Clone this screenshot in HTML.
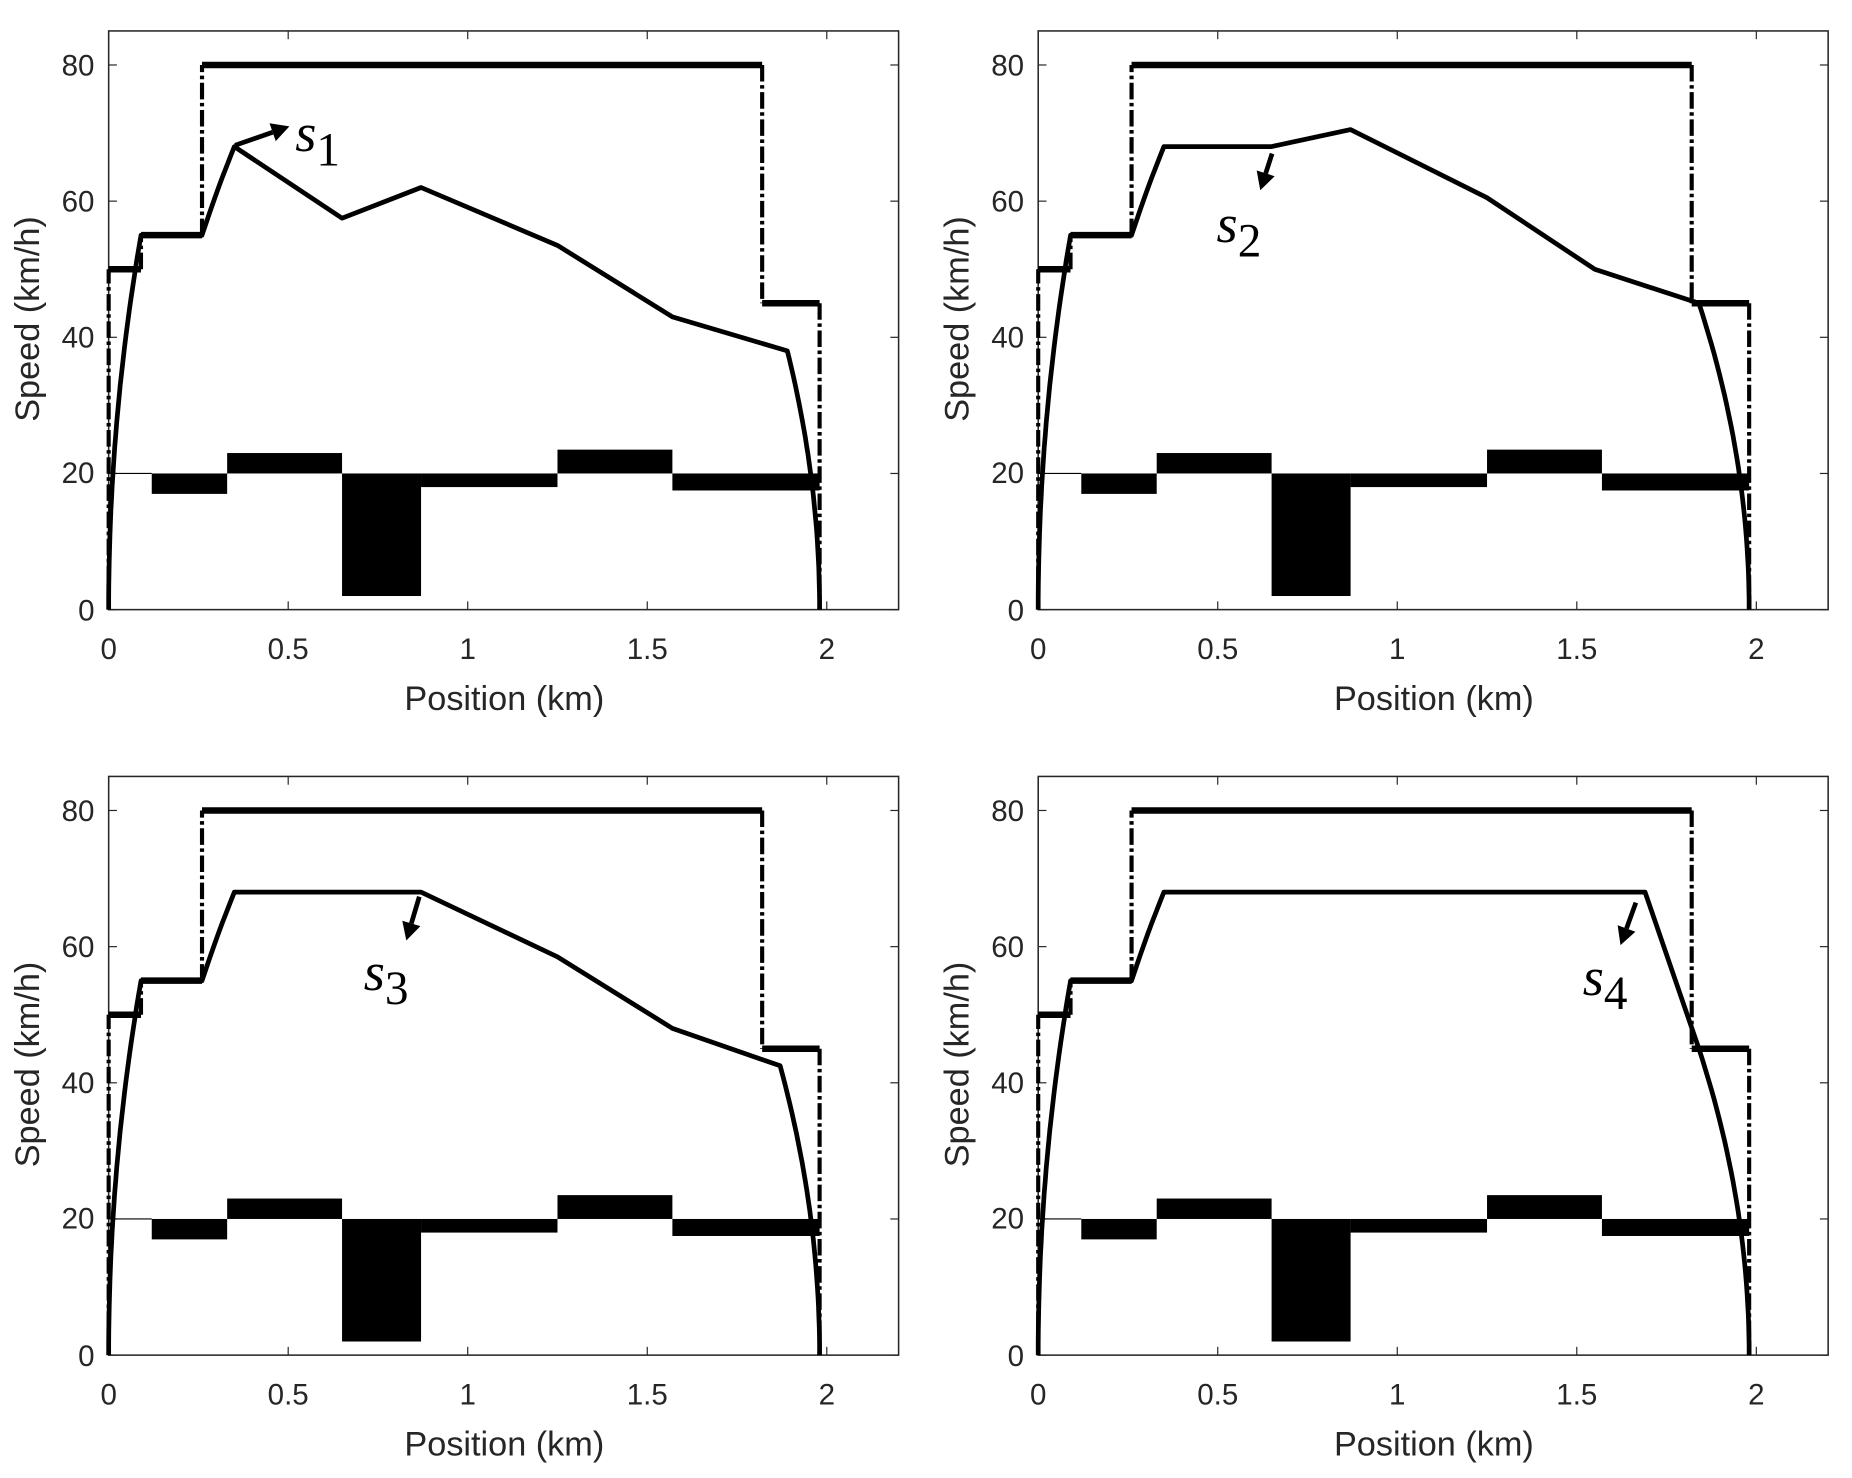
<!DOCTYPE html>
<html><head><meta charset="utf-8"><style>
html,body{margin:0;padding:0;background:#fff;}
svg{display:block;}
.t{font-family:"Liberation Sans",sans-serif;font-size:25px;fill:#262626;}
.l{font-family:"Liberation Sans",sans-serif;font-size:29px;fill:#262626;}
.s{font-family:"Liberation Serif",serif;font-size:46px;fill:#000;}
</style></head><body>
<svg id="g" width="1852" height="1478" viewBox="0 0 1568 1251" preserveAspectRatio="none" xmlns="http://www.w3.org/2000/svg">
<g id="plots"></g>
<g class="t" text-anchor="end">
<text x="80" y="64">80</text><text x="80" y="179">60</text><text x="80" y="294">40</text><text x="80" y="409">20</text><text x="80" y="525">0</text>
<text x="867" y="64">80</text><text x="867" y="179">60</text><text x="867" y="294">40</text><text x="867" y="409">20</text><text x="867" y="525">0</text>
<text x="80" y="695">80</text><text x="80" y="810">60</text><text x="80" y="925">40</text><text x="80" y="1040">20</text><text x="80" y="1156">0</text>
<text x="867" y="695">80</text><text x="867" y="810">60</text><text x="867" y="925">40</text><text x="867" y="1040">20</text><text x="867" y="1156">0</text>
</g>
<g class="t" text-anchor="middle">
<text x="92" y="558">0</text><text x="244" y="558">0.5</text><text x="396" y="558">1</text><text x="548" y="558">1.5</text><text x="700" y="558">2</text>
<text x="879" y="558">0</text><text x="1031" y="558">0.5</text><text x="1183" y="558">1</text><text x="1335" y="558">1.5</text><text x="1487" y="558">2</text>
<text x="92" y="1189">0</text><text x="244" y="1189">0.5</text><text x="396" y="1189">1</text><text x="548" y="1189">1.5</text><text x="700" y="1189">2</text>
<text x="879" y="1189">0</text><text x="1031" y="1189">0.5</text><text x="1183" y="1189">1</text><text x="1335" y="1189">1.5</text><text x="1487" y="1189">2</text>
</g>
<g class="l" text-anchor="middle">
<text x="427" y="601">Position (km)</text><text x="1214" y="601">Position (km)</text>
<text x="427" y="1232">Position (km)</text><text x="1214" y="1232">Position (km)</text>
<text transform="translate(33,270) rotate(-90)">Speed (km/h)</text>
<text transform="translate(820,270) rotate(-90)">Speed (km/h)</text>
<text transform="translate(33,901) rotate(-90)">Speed (km/h)</text>
<text transform="translate(820,901) rotate(-90)">Speed (km/h)</text>
</g>
<text class="s" x="250" y="128" font-style="italic">s<tspan font-style="normal" dy="12" font-size="40">1</tspan></text>
<text class="s" x="1030" y="205" font-style="italic">s<tspan font-style="normal" dy="12" font-size="40">2</tspan></text>
<text class="s" x="308" y="838" font-style="italic">s<tspan font-style="normal" dy="12" font-size="40">3</tspan></text>
<text class="s" x="1340" y="842" font-style="italic">s<tspan font-style="normal" dy="12" font-size="40">4</tspan></text>
</svg>
<script>
var NS="http://www.w3.org/2000/svg",G=document.getElementById("plots");
function el(t,a){var e=document.createElementNS(NS,t);for(var k in a)e.setAttribute(k,a[k]);G.appendChild(e);return e;}
var SX=304,SY=5.7625;
function panel(ox,oy,curve,arrow){
 var X=function(x){return ox+x*SX},Y=function(v){return oy-v*SY};
 el("rect",{x:ox,y:oy-85*SY,width:2.2*SX,height:85*SY,fill:"none",stroke:"#262626","stroke-width":1.3});
 for(var i=0;i<=4;i++){var xx=X(i*0.5);el("line",{x1:xx,y1:oy,x2:xx,y2:oy-7,stroke:"#262626"});el("line",{x1:xx,y1:Y(85),x2:xx,y2:Y(85)+7,stroke:"#262626"});}
 for(var i=0;i<=4;i++){var yy=Y(i*20);el("line",{x1:ox,y1:yy,x2:ox+7,y2:yy,stroke:"#262626"});el("line",{x1:X(2.2),y1:yy,x2:X(2.2)-7,y2:yy,stroke:"#262626"});}
 el("line",{x1:X(0),y1:Y(20),x2:X(0.12),y2:Y(20),stroke:"#000","stroke-width":1});
 var B=[[0.12,0.33,17,20],[0.33,0.65,20,23],[0.65,0.87,2,20],[0.87,1.25,18,20],[1.25,1.57,20,23.5],[1.57,1.98,17.5,20]];
 B.forEach(function(b){el("rect",{x:X(b[0]),y:Y(b[3]),width:(b[1]-b[0])*SX,height:(b[3]-b[2])*SY,fill:"#000"});});
 var hz=[[0,0.09,50],[0.09,0.26,55],[0.26,1.82,80],[1.82,1.98,45]];
 hz.forEach(function(h){el("line",{x1:X(h[0]),y1:Y(h[2]),x2:X(h[1]),y2:Y(h[2]),stroke:"#000","stroke-width":5.5});});
 var vt=[[0,0,50],[0.09,50,55],[0.26,55,80],[1.82,80,45],[1.98,45,0]];
 vt.forEach(function(v){el("line",{x1:X(v[0]),y1:Y(v[1]),x2:X(v[0]),y2:Y(v[2]),stroke:"#000","stroke-width":3.5,"stroke-dasharray":"14 3 3 3"});});
 var p=[];
 for(var i=0;i<=30;i++){var x=0.09*Math.pow(i/30,2);p.push([x,55*Math.sqrt(x/0.09)]);}
 p.push([0.26,55]);
 for(var i=1;i<=8;i++){var x=0.26+0.09*i/8;p.push([x,Math.sqrt(55*55+(68*68-55*55)*i/8)]);}
 curve.forEach(function(q){p.push(q);});
 var last=p[p.length-1],L=1.98-last[0];
 for(var i=1;i<=30;i++){var r=1-Math.pow(1-i/30,2);var x=last[0]+L*r;p.push([x,last[1]*Math.sqrt(Math.max(0,1.98-x)/L)]);}
 el("polyline",{points:p.map(function(q){return X(q[0]).toFixed(1)+","+Y(q[1]).toFixed(1)}).join(" "),fill:"none",stroke:"#000","stroke-width":4,"stroke-linejoin":"round"});
 var a=arrow,dx=a[2]-a[0],dy=a[3]-a[1],len=Math.hypot(dx,dy),ux=dx/len,uy=dy/len,h=15,w=8;
 var bx=a[2]-ux*h,by=a[3]-uy*h;
 el("line",{x1:a[0],y1:a[1],x2:bx,y2:by,stroke:"#000","stroke-width":4});
 el("polygon",{points:a[2]+","+a[3]+" "+(bx-uy*w)+","+(by+ux*w)+" "+(bx+uy*w)+","+(by-ux*w),fill:"#000"});
}
panel(92,516,[[0.35,68],[0.65,57.5],[0.87,62],[1.25,53.5],[1.57,43],[1.89,38]],[199,123,245,107]);
panel(879,516,[[0.35,68],[0.65,68],[0.87,70.5],[1.25,60.5],[1.55,50],[1.84,45]],[1077,130,1067,161]);
panel(92,1147,[[0.35,68],[0.87,68],[1.25,58.5],[1.57,48],[1.87,42.5]],[355,759,344,796]);
panel(879,1147,[[0.35,68],[1.69,68],[1.84,45]],[1385,764,1372,800]);
</script>
</body></html>
